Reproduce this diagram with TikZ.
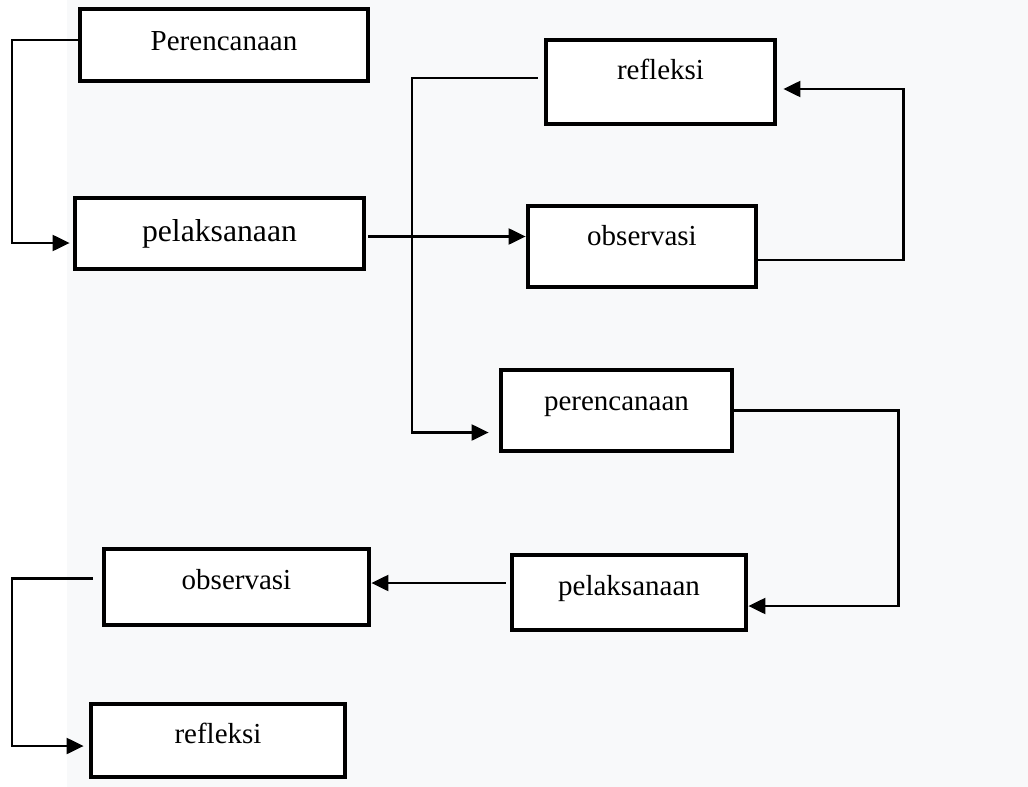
\documentclass[tikz,border=0pt]{standalone}
\usepackage{fontspec}
\setmainfont{Liberation Serif}
\usetikzlibrary{arrows.meta}
\definecolor{pagegray}{RGB}{248,249,250}

\begin{document}
\begin{tikzpicture}[x=0.5pt, y=-0.5pt,
  >={Triangle[length=8.5pt,width=8pt]},
  stage/.style={draw, rectangle, line width=2.4pt, fill=white, inner sep=0pt, font=\fontsize{14.5pt}{17pt}\selectfont},
  flow/.style={->, line width=1.1pt}]
\useasboundingbox (0,0) rectangle (1028,787);
\fill[white] (0,0) rectangle (1028,787);
\fill[pagegray] (67,0) rectangle (1028,787);
% cycle one
\node[stage, minimum width=144pt, minimum height=36pt, text height=5pt, text depth=0pt] (plan1) at (224,45) {Perencanaan};
\node[stage, minimum width=144.5pt, minimum height=35.5pt, text height=7.5pt, text depth=0pt, font=\fontsize{15.85pt}{18pt}\selectfont] (do1) at (219.5,233.5) {pelaksanaan};
\node[stage, minimum width=114pt, minimum height=40.5pt, text height=0pt, text depth=1.5pt] (obs1) at (642,246.5) {observasi};
\node[stage, minimum width=114.5pt, minimum height=42pt, text height=0pt, text depth=3pt] (ref1) at (660.5,82) {refleksi};
% cycle two
\node[stage, minimum width=115.5pt, minimum height=40.5pt, text height=0pt, text depth=0.5pt] (plan2) at (616.5,410.5) {perencanaan};
\node[stage, minimum width=117pt, minimum height=37.5pt, text height=2.5pt, text depth=0pt] (do2) at (629,592.5) {pelaksanaan};
\node[stage, minimum width=132.5pt, minimum height=38pt, text height=2pt, text depth=0pt] (obs2) at (236.5,587) {observasi};
\node[stage, minimum width=127pt, minimum height=36.5pt, text height=2.5pt, text depth=0pt] (ref2) at (218,740.5) {refleksi};
% connectors
\draw[flow, shorten >=1.5pt] ([yshift=2.5pt]plan1.west) -- ++(-66,0) |- ([yshift=-4.75pt]do1.west);
\draw[flow, shorten <=1pt] ([yshift=-1.5pt]do1.east) -- ([yshift=5pt]obs1.west);
\draw[flow, shorten >=3pt] ([yshift=-6.75pt]obs1.east) -- ++(145,0) |- ([yshift=-3.5pt]ref1.east);
\draw[flow, shorten <=3pt, shorten >=5pt] ([yshift=2pt]ref1.west) -- ++(-132,0) |- ([yshift=-11pt]plan2.west);
\draw[flow] (plan2.east) -- ++(164,0) |- ([yshift=-6.75pt]do2.east);
\draw[flow, shorten <=2pt] ([yshift=4.75pt]do2.west) -- ([yshift=2pt]obs2.east);
\draw[flow, shorten <=4.5pt, shorten >=2.5pt] ([yshift=4.25pt]obs2.west) -- ++(-90,0) |- ([yshift=-2.75pt]ref2.west);
\end{tikzpicture}
\end{document}
